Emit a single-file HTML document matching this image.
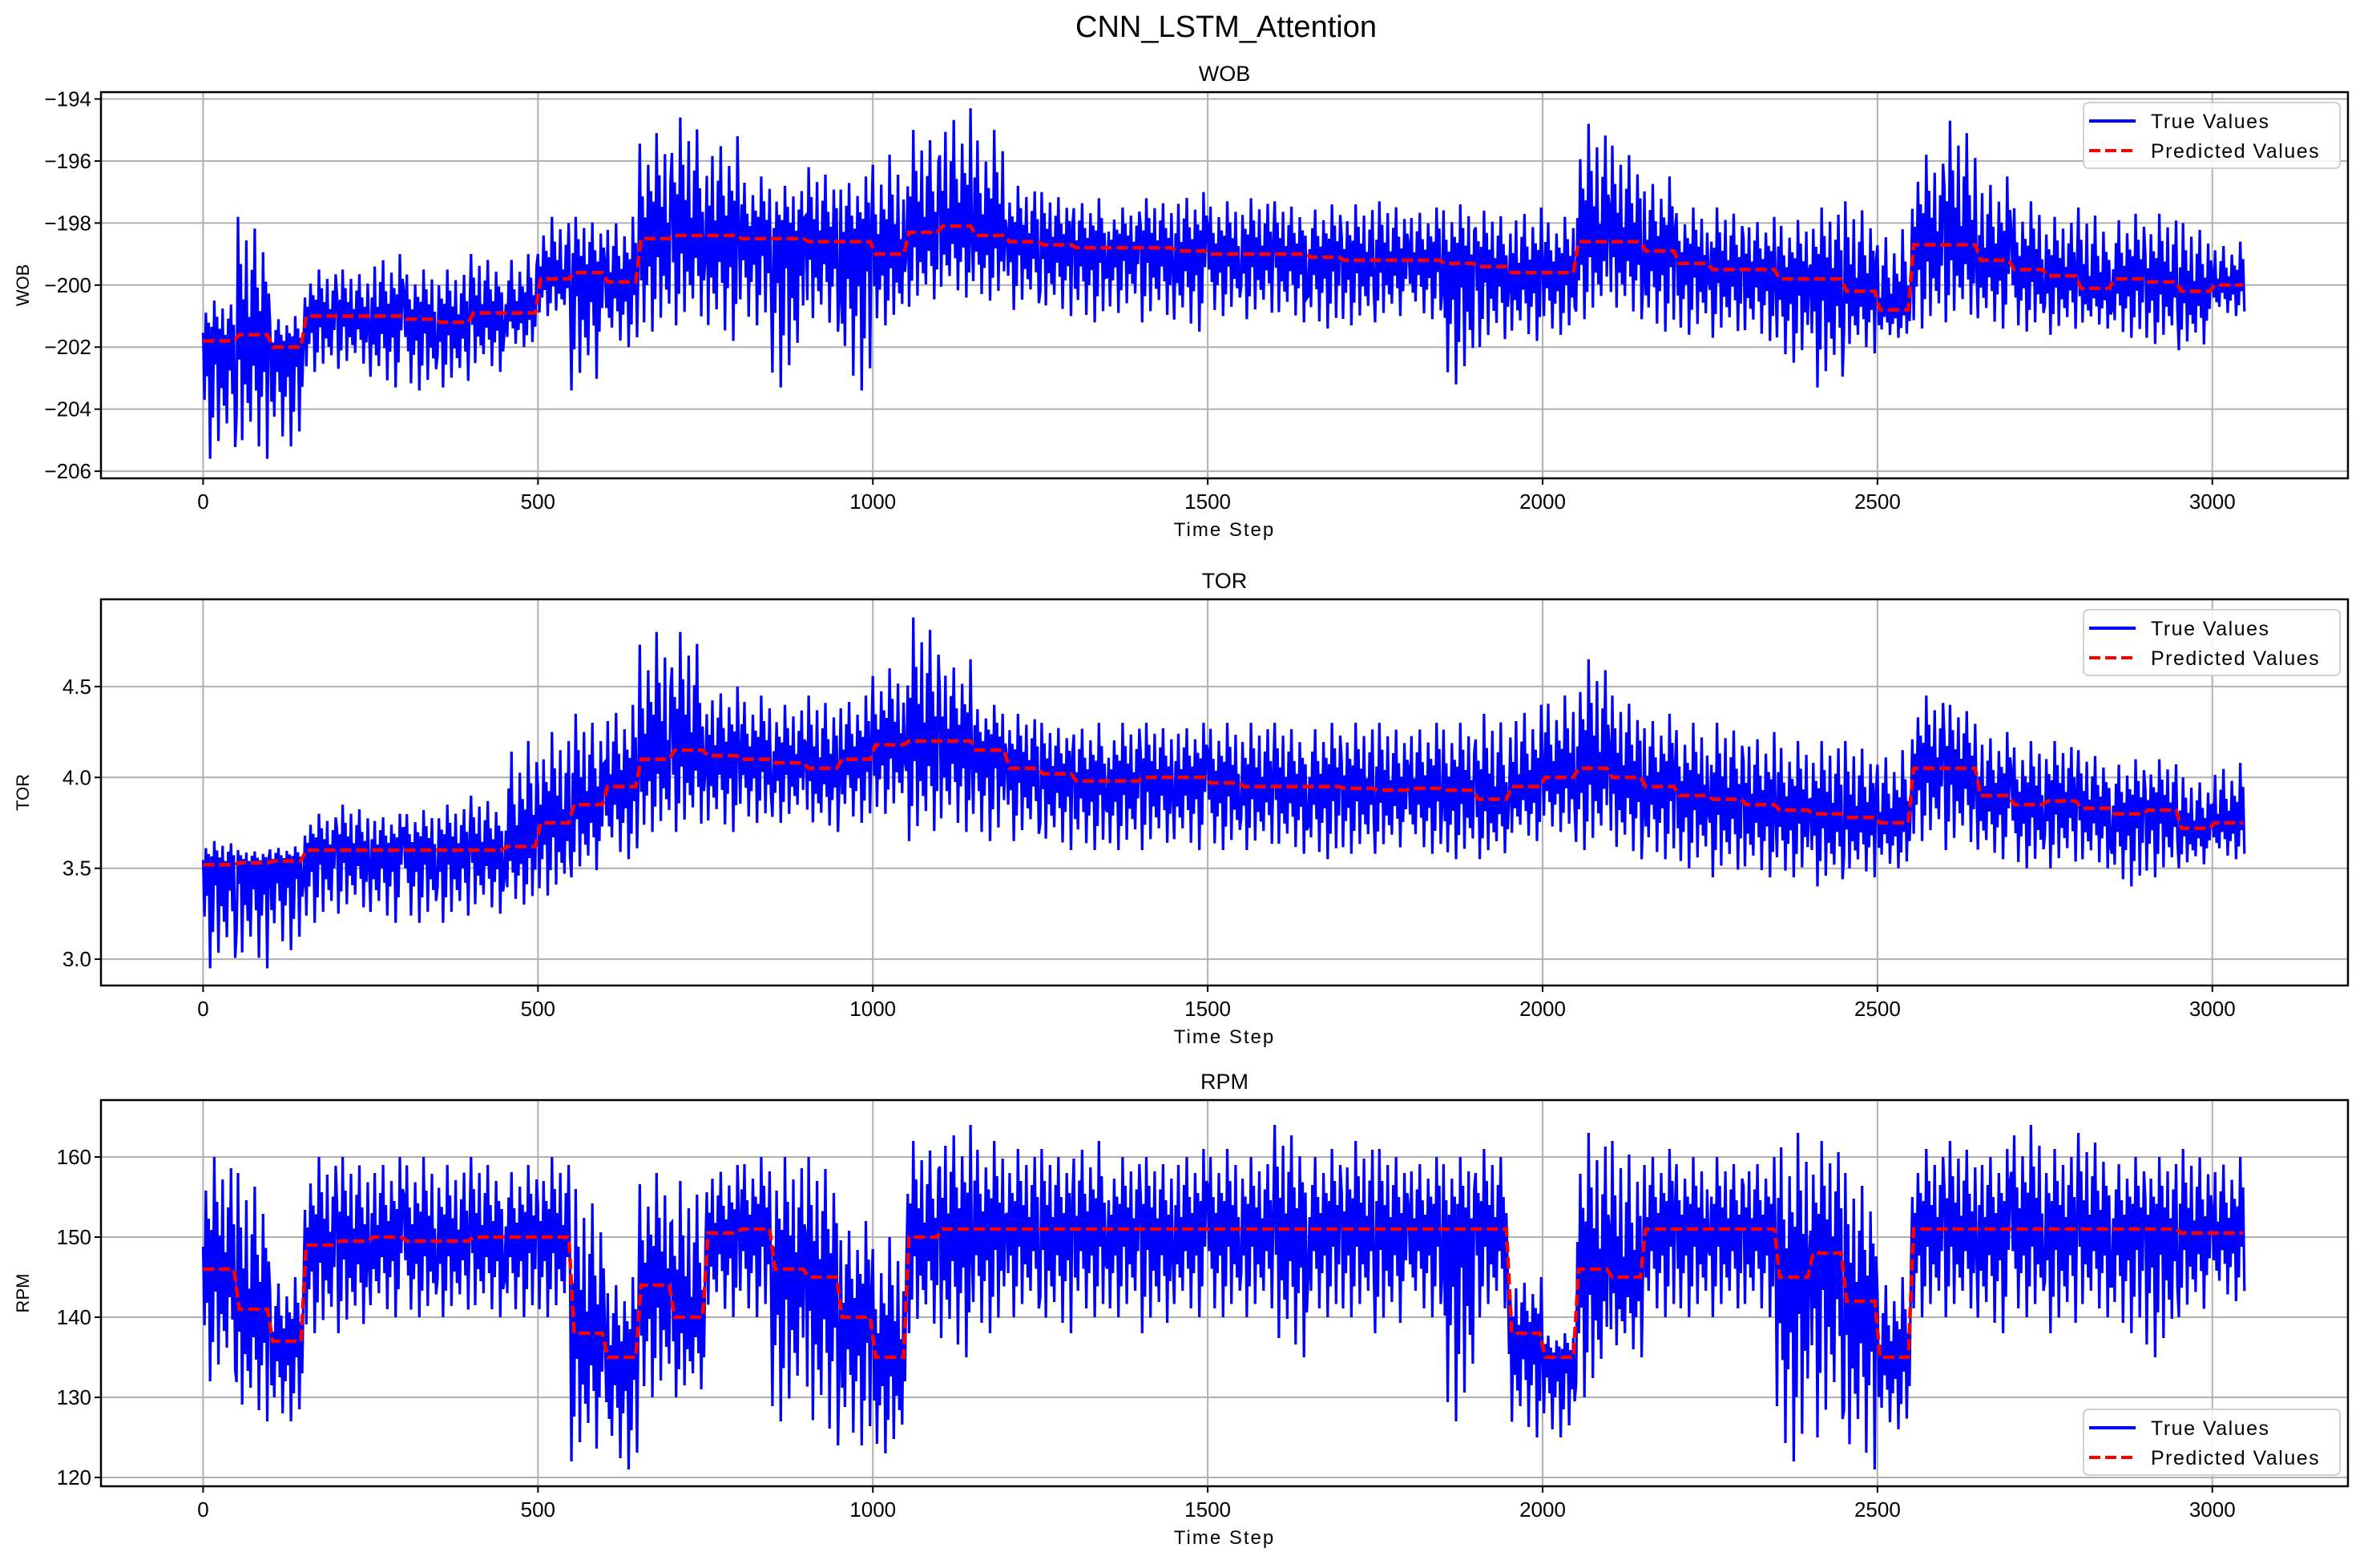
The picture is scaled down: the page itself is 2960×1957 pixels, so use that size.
<!DOCTYPE html>
<html><head><meta charset="utf-8">
<style>
html,body{margin:0;padding:0;background:#fff;}
svg{display:block;}
text{font-family:"WenQuanYi Zen Hei","Liberation Sans",sans-serif;fill:#000;}
</style></head>
<body>
<svg id="fig" width="2960" height="1957" viewBox="0 0 2960 1957" xmlns="http://www.w3.org/2000/svg">
<rect width="2960" height="1957" fill="#fff"/>
<text x="1530" y="46" font-size="38" text-anchor="middle">CNN_LSTM_Attention</text>
</svg>
<script>
const xTicks=[0,500,1000,1500,2000,2500,3000];
const binSize=50;
const wobPred=[-201.8,-201.6,-202.0,-201.0,-201.0,-201.0,-201.1,-201.2,-200.9,-200.9,-199.8,-199.6,-199.9,-198.5,-198.4,-198.4,-198.5,-198.5,-198.6,-198.6,-199.0,-198.3,-198.1,-198.4,-198.6,-198.7,-198.8,-198.8,-198.8,-198.9,-199.0,-199.0,-199.0,-199.1,-199.2,-199.2,-199.2,-199.3,-199.4,-199.6,-199.6,-198.6,-198.6,-198.9,-199.3,-199.5,-199.5,-199.8,-199.8,-200.2,-200.8,-198.7,-198.7,-199.2,-199.5,-199.7,-200.1,-199.8,-199.9,-200.2,-200.0];
const wobHi=[-200.5,-197.8,-201,-199.5,-199.5,-199,-199.5,-199.5,-199,-199,-197.8,-197.8,-197.8,-195.1,-194.6,-195.2,-196.5,-196.8,-196.2,-196.5,-195.8,-195,-194.3,-195,-196.8,-197,-197.2,-197.5,-197.2,-197,-197.3,-197.2,-197.3,-197.4,-197.4,-197.3,-197.5,-197.4,-197.6,-197.5,-197.8,-194.8,-195.5,-196.5,-197.5,-197.5,-197.8,-197.9,-197.5,-197.3,-198.2,-195.8,-194.7,-196.5,-197.3,-197.8,-197.5,-197.7,-197.7,-198,-198.6];
const wobLo=[-205.6,-205.6,-205.2,-202.8,-202.7,-203.3,-203.4,-203.3,-202.8,-202,-201,-203.4,-202,-201.5,-201.3,-201.8,-201.3,-203.3,-201.5,-203.4,-201.3,-200.7,-200.4,-200.5,-200.8,-201,-201.2,-200.9,-201.2,-201.5,-201,-201.1,-201.2,-201.4,-201.3,-201.2,-201.1,-203.2,-202,-201.8,-201.6,-201.1,-201.1,-201.5,-201.6,-201.7,-201.8,-202.5,-203.3,-202.2,-201.7,-201.4,-201.2,-201.4,-201.5,-201.6,-201.4,-201.7,-201.9,-202.1,-201];
const torPred=[3.52,3.53,3.54,3.6,3.6,3.6,3.6,3.6,3.6,3.62,3.75,3.85,3.95,4.1,4.15,4.12,4.1,4.08,4.05,4.1,4.18,4.2,4.2,4.15,4.05,4.02,3.98,3.98,4.0,4.0,3.97,3.95,3.95,3.95,3.94,3.93,3.94,3.93,3.88,3.95,4.0,4.05,4.0,3.95,3.9,3.88,3.85,3.82,3.8,3.78,3.75,4.05,4.05,3.9,3.85,3.87,3.83,3.8,3.82,3.72,3.75];
const torHi=[3.65,3.6,3.62,3.8,3.85,3.8,3.82,3.85,3.9,4.2,4.25,4.35,4.4,4.8,4.8,4.5,4.45,4.4,4.45,4.45,4.6,4.88,4.65,4.4,4.35,4.3,4.3,4.3,4.3,4.3,4.3,4.3,4.3,4.3,4.3,4.3,4.3,4.3,4.35,4.4,4.45,4.65,4.45,4.35,4.3,4.3,4.25,4.2,4.2,4.2,4.15,4.45,4.4,4.25,4.2,4.2,4.15,4.1,4.1,4.0,4.08];
const torLo=[2.95,2.95,3.05,3.2,3.25,3.2,3.2,3.2,3.25,3.3,3.35,3.45,3.55,3.7,3.7,3.7,3.75,3.75,3.7,3.75,3.8,3.65,3.7,3.65,3.65,3.6,3.6,3.6,3.6,3.6,3.6,3.6,3.58,3.55,3.58,3.58,3.58,3.55,3.55,3.65,3.7,3.6,3.55,3.55,3.5,3.45,3.45,3.45,3.4,3.45,3.5,3.65,3.6,3.55,3.5,3.5,3.5,3.4,3.45,3.5,3.55];
const rpmPred=[146,141,137,149,149.5,150,149.5,149.5,150,150,150,138,135,144,140,150.5,151,146,145,140,135,150,151,151,151,151,151,151,151,151,151,151,151,151,151,151,151,151,151,138,135,146,145,151,151,151,151,145,148,142,135,151,151,151,151,151,151,151,151,150.5,150.5];
const rpmHi=[160,158,145,160,160,160,160,159,160,159,160,156,145,158,157,159,160,160,160,152,150,162,164,162,161,161,162,160,160,161,161,160,164,161,162,161,160,160,161,145,138,163,162,161,160,160,160,163,162,158,145,161,162,161,164,161,163,160,160,161,160];
const rpmLo=[132,127,127,138,138,140,140,140,140,140,140,122,121,130,130,140,140,127,124,124,123,138,135,138,140,138,140,140,138,140,140,140,135,140,140,138,140,127,140,125,125,130,135,140,140,140,140,122,125,121,126,140,140,138,140,138,140,138,135,140,142];
const wobTicks=[-206,-204,-202,-200,-198,-196,-194];
const torTicks=[3.0,3.5,4.0,4.5];
const rpmTicks=[120,130,140,150,160];

const NS="http://www.w3.org/2000/svg";
const svg=document.getElementById('fig');
function mk(tag,attrs,parent){const e=document.createElementNS(NS,tag);for(const k in attrs)e.setAttribute(k,attrs[k]);(parent||svg).appendChild(e);return e;}
const L=126,R=2930,X0=-152.5,X1=3202.5;
function sx(v){return L+(v-X0)/(X1-X0)*(R-L);}
const pattern=[0.2,-0.5,0.7,-0.3,0.45,-1,0.35,-0.65,1,-0.2,0.6,-0.85,0.3,-0.4,0.8,-0.55,0.15,-0.7,0.55,-0.25,0.9,-0.45,0.4,-0.9];
const panels=[
 {name:'wob',title:'WOB',top:115,bot:597,y0:-206.23,y1:-193.78,ticks:wobTicks,fmt:v=>'\u2212'+Math.abs(v),pred:wobPred,hi:wobHi,lo:wobLo,legendBottom:false},
 {name:'tor',title:'TOR',top:748,bot:1230,y0:2.855,y1:4.98,ticks:torTicks,fmt:v=>v.toFixed(1),pred:torPred,hi:torHi,lo:torLo,legendBottom:false},
 {name:'rpm',title:'RPM',top:1373,bot:1855,y0:118.9,y1:167.1,ticks:rpmTicks,fmt:v=>String(v),pred:rpmPred,hi:rpmHi,lo:rpmLo,legendBottom:true}
];
panels.forEach(p=>{
 const g=mk('g',{});
 
 
 const sy=v=>p.bot-(v-p.y0)/(p.y1-p.y0)*(p.bot-p.top);
 const clipId='clip-'+p.name;
 const cp=mk('clipPath',{id:clipId},g);mk('rect',{x:L,y:p.top,width:R-L,height:p.bot-p.top},cp);
 xTicks.forEach(t=>{const l=mk('line',{x1:sx(t),x2:sx(t),y1:p.top,y2:p.bot,stroke:'#b0b0b0','stroke-width':2},g);});
 p.ticks.forEach(t=>{const l=mk('line',{x1:L,x2:R,y1:sy(t),y2:sy(t),stroke:'#b0b0b0','stroke-width':2},g);});
 let pts=[];
 const n=p.pred.length;
 for(let i=0;i<n;i++){
  for(let k=0;k<pattern.length;k++){
   const x=i*binSize+k*binSize/pattern.length;
   if(x>3050)break;
   const f=pattern[(k+i*7)%pattern.length];
   const v=f>=0?p.pred[i]+f*(p.hi[i]-p.pred[i]):p.pred[i]+(-f)*(p.lo[i]-p.pred[i]);
   pts.push(sx(x).toFixed(1)+','+sy(v).toFixed(1));
  }
 }
 const tl=mk('polyline',{points:pts.join(' '),fill:'none',stroke:'#0000ff','stroke-width':3.2,'stroke-linejoin':'miter','clip-path':'url(#'+clipId+')'},g);
 
 
 let pp=[];
 for(let i=0;i<n;i++){
  const xa=i*binSize+4, xb=Math.min(i*binSize+binSize-4,3050);
  pp.push(sx(i===0?0:xa).toFixed(1)+','+sy(p.pred[i]).toFixed(1));
  pp.push(sx(xb).toFixed(1)+','+sy(p.pred[i]).toFixed(1));
 }
 const pl=mk('polyline',{points:pp.join(' '),fill:'none',stroke:'#ff0000','stroke-width':4.5,'stroke-dasharray':'14,6','clip-path':'url(#'+clipId+')'},g);
 
 
 const sp=mk('rect',{x:L,y:p.top,width:R-L,height:p.bot-p.top,fill:'none',stroke:'#000','stroke-width':2.5},g);
 
 
 xTicks.forEach(t=>{mk('line',{x1:sx(t),x2:sx(t),y1:p.bot,y2:p.bot+8,stroke:'#000','stroke-width':2},g);
  const tx=mk('text',{x:sx(t),y:p.bot+38,'font-size':26,'text-anchor':'middle'},g);tx.textContent=String(t);
  });
 p.ticks.forEach(t=>{mk('line',{x1:L-8,x2:L,y1:sy(t),y2:sy(t),stroke:'#000','stroke-width':2},g);
  const tx=mk('text',{x:L-12,y:sy(t)+9,'font-size':26,'text-anchor':'end'},g);tx.textContent=p.fmt(t);
  });
 const xl=mk('text',{x:(L+R)/2,y:p.bot+72,'font-size':24,'text-anchor':'middle','letter-spacing':2},g);xl.textContent='Time Step';
 
 const yl=mk('text',{x:0,y:0,'font-size':22,'text-anchor':'middle',transform:'translate(36,'+((p.top+p.bot)/2)+') rotate(-90)'},g);yl.textContent=p.title;
 
 const ti=mk('text',{x:(L+R)/2,y:p.top-14,'font-size':27,'text-anchor':'middle'},g);ti.textContent=p.title;
 
 const ly=p.legendBottom?p.bot-96:p.top+13;
 const lg=mk('g',{},g);
 
 
 mk('rect',{x:2600,y:ly,width:320,height:82,rx:6,fill:'#fff','fill-opacity':0.85,stroke:'#d0d0d0','stroke-width':2},lg);
 mk('line',{x1:2607,x2:2665,y1:ly+23,y2:ly+23,stroke:'#0000ff','stroke-width':4},lg);
 mk('line',{x1:2607,x2:2665,y1:ly+60,y2:ly+60,stroke:'#ff0000','stroke-width':4,'stroke-dasharray':'14,6'},lg);
 const t1=mk('text',{x:2684,y:ly+32,'font-size':25,'letter-spacing':1.5},lg);t1.textContent='True Values';
 
 const t2=mk('text',{x:2684,y:ly+69,'font-size':25,'letter-spacing':1.5},lg);t2.textContent='Predicted Values';
 
});
</script>
</body></html>
